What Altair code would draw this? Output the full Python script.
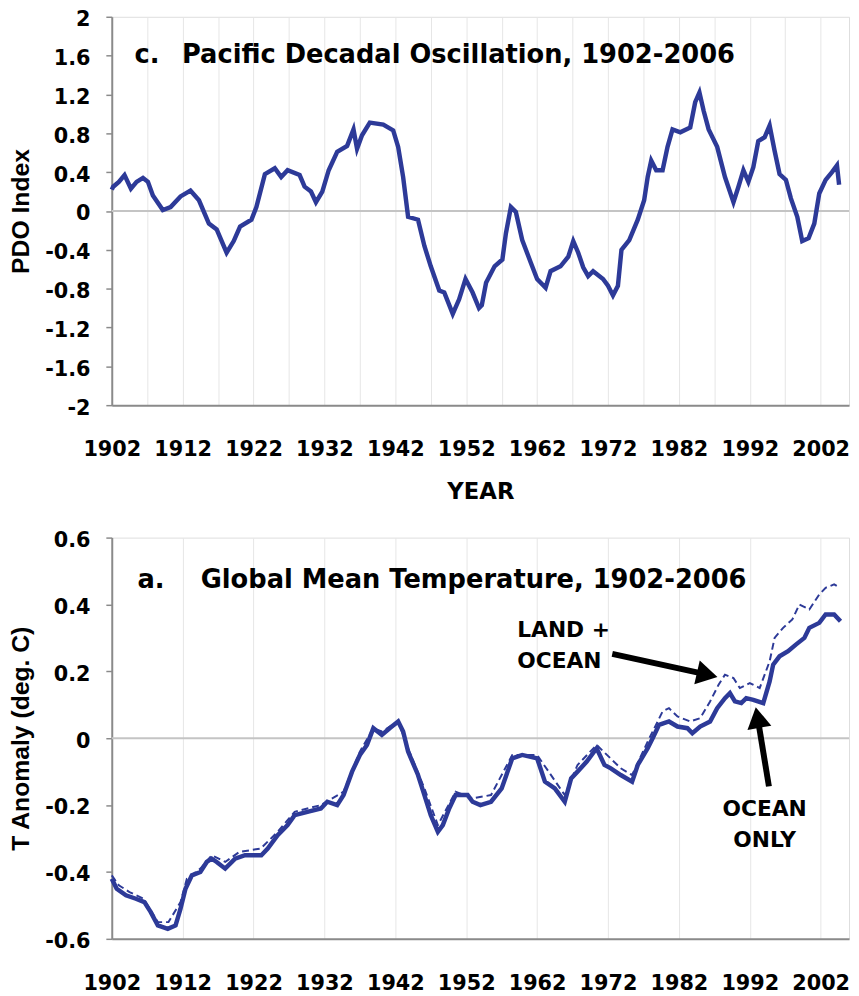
import altair as alt
import pandas as pd

FONT = "DejaVu Sans"          # horizontal texts (the reference is horizontally stretched)
RFONT = "Liberation Sans"     # rotated axis titles
BLUE = "#2D3A98"
GRAY = "#8a8a8a"

# ---------------- data ----------------
pdo_year = [1902.0, 1902.2, 1903.0, 1903.8, 1904.7, 1905.5, 1906.4, 1907.1, 1907.8, 1909.2,
            1910.3, 1911.7, 1913.1, 1914.3, 1915.7, 1916.8, 1918.2, 1919.2, 1920.1, 1921.7,
            1922.4, 1923.6, 1925.0, 1925.9, 1926.8, 1928.5, 1929.2, 1930.1, 1930.8, 1931.7,
            1932.6, 1933.8, 1935.2, 1936.1, 1936.6, 1937.3, 1938.4, 1940.3, 1941.7, 1942.4,
            1943.1, 1943.8, 1945.2, 1946.1, 1947.0, 1948.2, 1948.9, 1950.1, 1951.0, 1951.9,
            1952.9, 1953.8, 1954.2, 1954.8, 1956.0, 1957.1, 1957.6, 1958.3, 1959.0, 1959.9,
            1961.1, 1962.0, 1963.2, 1963.9, 1965.3, 1966.4, 1967.1, 1967.8, 1968.5, 1969.2,
            1969.9, 1971.3, 1972.0, 1972.7, 1973.4, 1973.9, 1975.0, 1976.2, 1977.1, 1977.6,
            1978.1, 1978.8, 1979.7, 1980.4, 1981.1, 1982.2, 1983.6, 1984.3, 1984.9, 1985.5,
            1986.2, 1987.4, 1988.5, 1989.7, 1990.4, 1991.1, 1991.8, 1992.5, 1993.2, 1994.1,
            1994.8, 1995.5, 1996.2, 1997.1, 1997.8, 1998.7, 1999.4, 2000.3, 2001.1, 2001.8,
            2002.7, 2003.6, 2004.3, 2004.6]
pdo_value = [0.22, 0.25, 0.30, 0.37, 0.23, 0.30, 0.34, 0.30, 0.16, 0.01,
             0.04, 0.15, 0.21, 0.11, -0.13, -0.19, -0.43, -0.31, -0.16, -0.09,
             0.04, 0.38, 0.44, 0.35, 0.42, 0.37, 0.25, 0.20, 0.09, 0.20,
             0.42, 0.61, 0.67, 0.84, 0.64, 0.78, 0.91, 0.89, 0.83, 0.66,
             0.35, -0.06, -0.09, -0.36, -0.57, -0.82, -0.84, -1.06, -0.91, -0.70,
             -0.84, -1.00, -0.97, -0.74, -0.57, -0.50, -0.23, 0.04, -0.01, -0.30,
             -0.53, -0.70, -0.79, -0.62, -0.57, -0.47, -0.31, -0.43, -0.58, -0.67,
             -0.62, -0.70, -0.77, -0.87, -0.77, -0.40, -0.30, -0.09, 0.11, 0.35,
             0.52, 0.42, 0.42, 0.66, 0.84, 0.81, 0.86, 1.12, 1.22, 1.03,
             0.84, 0.66, 0.35, 0.09, 0.25, 0.42, 0.30, 0.45, 0.72, 0.76,
             0.88, 0.62, 0.38, 0.32, 0.13, -0.06, -0.31, -0.28, -0.13, 0.18,
             0.32, 0.40, 0.47, 0.27]

ocean_year = [1902.0, 1902.7, 1904.0, 1905.4, 1906.6, 1907.5, 1908.5, 1909.9, 1911.0, 1911.7,
              1912.4, 1913.3, 1914.5, 1915.4, 1916.1, 1916.8, 1918.0, 1919.4, 1920.8, 1923.1,
              1924.0, 1925.4, 1926.8, 1927.8, 1929.6, 1931.5, 1932.4, 1933.8, 1934.7, 1935.9,
              1937.0, 1938.0, 1938.9, 1940.1, 1941.2, 1942.4, 1943.1, 1943.8, 1945.2, 1946.1,
              1947.0, 1948.0, 1948.7, 1949.6, 1950.5, 1952.2, 1952.9, 1954.0, 1955.5, 1957.0,
              1958.5, 1959.9, 1962.0, 1963.1, 1964.5, 1965.9, 1966.8, 1967.7, 1969.0, 1970.4,
              1971.5, 1972.4, 1973.8, 1975.4, 1976.2, 1977.6, 1978.3, 1979.2, 1980.6, 1981.8,
              1983.2, 1983.9, 1985.0, 1986.4, 1987.4, 1988.5, 1989.2, 1989.9, 1990.8, 1991.5,
              1992.5, 1993.9, 1994.8, 1995.3, 1996.2, 1997.4, 1998.5, 1999.7, 2000.4, 2001.8,
              2002.7, 2003.9, 2004.8]
ocean_value = [-0.42, -0.45, -0.47, -0.48, -0.49, -0.52, -0.56, -0.57, -0.56, -0.51,
               -0.45, -0.41, -0.40, -0.37, -0.36, -0.37, -0.39, -0.36, -0.35, -0.35,
               -0.33, -0.29, -0.26, -0.23, -0.22, -0.21, -0.19, -0.20, -0.17, -0.10,
               -0.05, -0.02, 0.03, 0.01, 0.03, 0.05, 0.02, -0.04, -0.11, -0.17,
               -0.23, -0.28, -0.26, -0.21, -0.17, -0.17, -0.19, -0.20, -0.19, -0.15,
               -0.06, -0.05, -0.06, -0.13, -0.15, -0.19, -0.12, -0.10, -0.07, -0.03,
               -0.08, -0.09, -0.11, -0.13, -0.08, -0.03, 0.00, 0.04, 0.05, 0.035,
               0.03, 0.015, 0.035, 0.05, 0.09, 0.12, 0.135, 0.11, 0.105, 0.12,
               0.115, 0.105, 0.17, 0.22, 0.245, 0.26, 0.28, 0.30, 0.33, 0.345,
               0.37, 0.37, 0.35]

land_year = [1902.0, 1903.0, 1904.5, 1906.5, 1908.5, 1910.0, 1911.7, 1912.6, 1914.5, 1916.1,
             1918.0, 1920.0, 1923.0, 1925.4, 1927.8, 1931.5, 1934.7, 1937.0, 1938.9, 1940.1,
             1942.4, 1943.8, 1946.1, 1948.0, 1950.5, 1952.9, 1955.5, 1958.5, 1962.0, 1965.9,
             1967.7, 1970.4, 1973.8, 1975.4, 1977.6, 1979.7, 1980.6, 1981.8, 1983.6, 1985.0,
             1986.4, 1987.6, 1988.5, 1989.7, 1990.6, 1992.0, 1993.4, 1994.8, 1995.5, 1996.7,
             1998.0, 1999.0, 2000.4, 2001.8, 2002.7, 2003.9, 2004.3]
land_value = [-0.41, -0.44, -0.46, -0.48, -0.55, -0.55, -0.49, -0.42, -0.39, -0.35,
              -0.37, -0.34, -0.33, -0.28, -0.22, -0.20, -0.16, -0.04, 0.03, 0.02,
              0.05, -0.03, -0.15, -0.26, -0.16, -0.18, -0.17, -0.05, -0.05, -0.17,
              -0.08, -0.02, -0.09, -0.11, -0.01, 0.08, 0.09, 0.065, 0.05, 0.06,
              0.11, 0.16, 0.19, 0.18, 0.15, 0.165, 0.15, 0.23, 0.30, 0.33,
              0.355, 0.40, 0.385, 0.43, 0.45, 0.46, 0.455]

x_ticks = list(range(1902, 2007, 5))
pdo_ticks = [-2, -1.6, -1.2, -0.8, -0.4, 0, 0.4, 0.8, 1.2, 1.6, 2]
temp_ticks = [-0.6, -0.4, -0.2, 0, 0.2, 0.4, 0.6]

top_title = ["c.", "Pacific Decadal Oscillation, 1902-2006"]
bot_title = ["a.", "Global Mean Temperature, 1902-2006"]

# annotations (data coordinates of the lower panel)
note_text = ["LAND +", "OCEAN", "OCEAN", "ONLY"]
note_year = [1959.2, 1959.2, 1994.1, 1994.1]
note_value = [0.324, 0.231, -0.213, -0.306]
note_align = ["left", "left", "center", "center"]
arrow_year = [1972.6, 1994.7]
arrow_value = [0.252, -0.144]
arrow_year2 = [1986.0, 1993.1]
arrow_value2 = [0.190, 0.062]
arrow_shape = ["triangle-right", "triangle-up"]
arrow_angle = [13, 350]

# ---------------- frames ----------------
pdo_df = pd.DataFrame({"year": pdo_year, "value": pdo_value})
ocean_df = pd.DataFrame({"year": ocean_year, "value": ocean_value})
land_df = pd.DataFrame({"year": land_year, "value": land_value})
zero_df = pd.DataFrame({"value": [0]})
notes_df = pd.DataFrame({"year": note_year, "value": note_value, "text": note_text, "align": note_align})
arrows_df = pd.DataFrame({"year": arrow_year, "value": arrow_value,
                          "year2": arrow_year2, "value2": arrow_value2,
                          "shape": arrow_shape, "angle": arrow_angle})

W = 746
label_expr_x = "(datum.value - 1902) % 10 == 0 ? format(datum.value, 'd') : ''"
label_expr_y = "replace(format(datum.value, '~g'), '\u2212', '-')"


def x_enc(title):
    return alt.X(
        "year:Q",
        title=title,
        scale=alt.Scale(domain=[1902, 2006], nice=False, zero=False),
        axis=alt.Axis(values=x_ticks, labelExpr=label_expr_x,
                      grid=True, gridColor="#e6e6e6", gridWidth=1,
                      ticks=False, domainColor=GRAY, domainWidth=2,
                      labelFont=FONT, labelFontWeight="bold", labelColor="black",
                      labelFontSize=21, labelPadding=34, labelFlush=False,
                      titleFont=FONT, titleFontWeight="bold", titleColor="black",
                      titleFontSize=23, titlePadding=21),
    )


def y_enc(title, domain, ticks):
    return alt.Y(
        "value:Q",
        title=title,
        scale=alt.Scale(domain=domain, nice=False, zero=False),
        axis=alt.Axis(values=ticks, labelExpr=label_expr_y, grid=False,
                      tickSize=6, tickColor=GRAY, tickWidth=1.5,
                      domainColor=GRAY, domainWidth=2,
                      labelFont=FONT, labelFontWeight="bold", labelColor="black",
                      labelFontSize=21, labelPadding=16, labelOffset=3,
                      titleFont=RFONT, titleFontWeight="bold", titleColor="black",
                      titleFontSize=25, titlePadding=11),
    )


# ---------------- top panel ----------------
tx = x_enc("YEAR")
ty = y_enc("PDO Index", [-2, 2], pdo_ticks)

top_zero = alt.Chart(zero_df).mark_rule(color="#c4c4c4", strokeWidth=2).encode(y=ty)
top_line = alt.Chart(pdo_df).mark_line(color=BLUE, strokeWidth=4.5).encode(x=tx, y=ty)
top_t1 = alt.Chart(pd.DataFrame({"t": [top_title[0]]})).mark_text(
    font=FONT, fontWeight="bold", fontSize=26, align="left", baseline="alphabetic"
).encode(text="t:N", x=alt.value(23), y=alt.value(47))
top_t2 = alt.Chart(pd.DataFrame({"t": [top_title[1]]})).mark_text(
    font=FONT, fontWeight="bold", fontSize=26, align="left", baseline="alphabetic"
).encode(text="t:N", x=alt.value(71), y=alt.value(47))

top = alt.layer(top_zero, top_line, top_t1, top_t2).properties(width=W, height=393)

# ---------------- bottom panel ----------------
bx = x_enc(None)
by = y_enc("T Anomaly (deg. C)", [-0.6, 0.6], temp_ticks)

bot_zero = alt.Chart(zero_df).mark_rule(color="#c4c4c4", strokeWidth=2).encode(y=by)
bot_land = alt.Chart(land_df).mark_line(color=BLUE, strokeWidth=2, strokeDash=[7, 4]).encode(x=bx, y=by)
bot_ocean = alt.Chart(ocean_df).mark_line(color=BLUE, strokeWidth=4.5).encode(x=bx, y=by)
bot_t1 = alt.Chart(pd.DataFrame({"t": [bot_title[0]]})).mark_text(
    font=FONT, fontWeight="bold", fontSize=26, align="left", baseline="alphabetic"
).encode(text="t:N", x=alt.value(26), y=alt.value(51))
bot_t2 = alt.Chart(pd.DataFrame({"t": [bot_title[1]]})).mark_text(
    font=FONT, fontWeight="bold", fontSize=26, align="left", baseline="alphabetic"
).encode(text="t:N", x=alt.value(90), y=alt.value(51))

arrow_lines = alt.Chart(arrows_df).mark_rule(color="black", strokeWidth=6).encode(
    x=bx, y=by, x2="year2:Q", y2="value2:Q")
arrow_heads = alt.Chart(arrows_df).mark_point(filled=True, color="black", opacity=1, size=600).encode(
    x=alt.X("year2:Q", scale=alt.Scale(domain=[1902, 2006], nice=False, zero=False)),
    y=alt.Y("value2:Q", scale=alt.Scale(domain=[-0.6, 0.6], nice=False, zero=False)),
    shape=alt.Shape("shape:N", scale=None),
    angle=alt.Angle("angle:Q", scale=None))
notes_left = alt.Chart(notes_df[notes_df["align"] == "left"]).mark_text(
    font=FONT, fontWeight="bold", fontSize=22, align="left", baseline="middle", color="black"
).encode(x=bx, y=by, text="text:N")
notes_center = alt.Chart(notes_df[notes_df["align"] == "center"]).mark_text(
    font=FONT, fontWeight="bold", fontSize=22, align="center", baseline="middle", color="black"
).encode(x=bx, y=by, text="text:N")

bottom = alt.layer(bot_zero, bot_land, bot_ocean, arrow_lines, arrow_heads,
                   notes_left, notes_center, bot_t1, bot_t2).properties(width=W, height=406)

chart = alt.vconcat(top, bottom, spacing=25).properties(
    padding={"left": 0, "top": -6, "right": 0, "bottom": 0}
).configure_view(
    stroke=GRAY, strokeWidth=2
).configure(background="white")

chart.save("out.html", embed_options={"renderer": "svg", "actions": False})
